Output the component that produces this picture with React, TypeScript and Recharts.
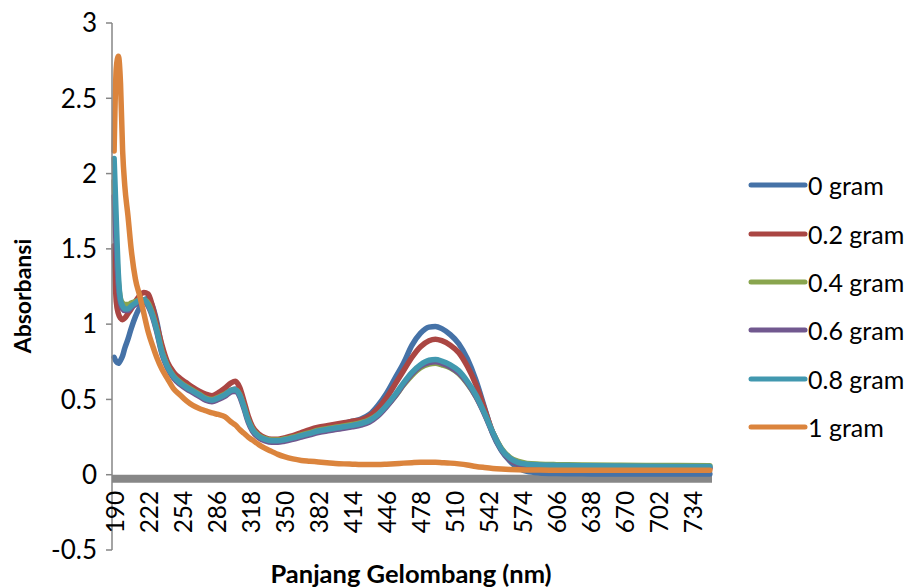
import React from 'react';
import { LineChart, Line, XAxis, YAxis, Legend, ReferenceLine } from 'recharts';

const WAVELENGTH = [190, 192, 194, 196, 198, 200, 203, 206, 210, 214, 218, 222, 226, 230, 235, 240, 246, 252, 258, 264, 270, 276, 282, 288, 294, 300, 304, 308, 312, 316, 320, 326, 332, 338, 344, 350, 358, 366, 374, 382, 390, 398, 406, 414, 422, 430, 438, 446, 454, 462, 470, 478, 486, 492, 498, 506, 514, 522, 530, 538, 546, 554, 562, 570, 578, 590, 606, 630, 660, 690, 720, 750];

const G0 = [0.78, 0.75, 0.74, 0.76, 0.79, 0.84, 0.9, 0.97, 1.05, 1.11, 1.16, 1.17, 1.12, 1.02, 0.84, 0.74, 0.67, 0.63, 0.6, 0.57, 0.54, 0.52, 0.51, 0.52, 0.54, 0.56, 0.57, 0.54, 0.46, 0.37, 0.31, 0.26, 0.235, 0.225, 0.225, 0.235, 0.245, 0.26, 0.28, 0.3, 0.315, 0.325, 0.34, 0.355, 0.37, 0.4, 0.46, 0.54, 0.64, 0.74, 0.86, 0.94, 0.98, 0.985, 0.97, 0.93, 0.87, 0.77, 0.63, 0.45, 0.27, 0.16, 0.09, 0.045, 0.022, 0.012, 0.008, 0.006, 0.005, 0.005, 0.005, 0.005];
const G02 = [1.52, 1.15, 1.07, 1.04, 1.03, 1.04, 1.07, 1.1, 1.15, 1.19, 1.21, 1.2, 1.12, 1.0, 0.86, 0.75, 0.68, 0.64, 0.61, 0.58, 0.555, 0.535, 0.525, 0.545, 0.575, 0.61, 0.62, 0.58, 0.49, 0.39, 0.32, 0.27, 0.245, 0.235, 0.235, 0.245, 0.26, 0.28, 0.3, 0.315, 0.325, 0.335, 0.345, 0.355, 0.365, 0.39, 0.44, 0.51, 0.6, 0.69, 0.78, 0.85, 0.89, 0.9, 0.89, 0.86, 0.81, 0.72, 0.6, 0.44, 0.28, 0.17, 0.1, 0.07, 0.056, 0.05, 0.048, 0.047, 0.046, 0.045, 0.044, 0.043];
const G04 = [1.95, 1.55, 1.28, 1.17, 1.14, 1.13, 1.13, 1.14, 1.15, 1.16, 1.16, 1.14, 1.07, 0.97, 0.82, 0.725, 0.655, 0.615, 0.585, 0.56, 0.535, 0.51, 0.5, 0.515, 0.535, 0.56, 0.565, 0.535, 0.455, 0.365, 0.305, 0.26, 0.24, 0.23, 0.23, 0.237, 0.25, 0.265, 0.28, 0.295, 0.305, 0.315, 0.323, 0.333, 0.345, 0.365, 0.4, 0.455, 0.52, 0.595, 0.66, 0.71, 0.735, 0.74, 0.73, 0.71, 0.67, 0.605, 0.52, 0.41, 0.28, 0.175, 0.115, 0.088, 0.075, 0.07, 0.067, 0.065, 0.063, 0.062, 0.061, 0.06];
const G06 = [1.85, 1.5, 1.25, 1.14, 1.1, 1.09, 1.09, 1.11, 1.13, 1.15, 1.15, 1.12, 1.05, 0.95, 0.8, 0.71, 0.64, 0.6, 0.57, 0.545, 0.52, 0.495, 0.485, 0.5, 0.52, 0.55, 0.555, 0.52, 0.44, 0.35, 0.29, 0.245, 0.225, 0.215, 0.215, 0.222, 0.235, 0.25, 0.265, 0.28, 0.29, 0.3, 0.308, 0.318, 0.33, 0.35, 0.39, 0.45, 0.52, 0.6, 0.67, 0.72, 0.745, 0.75, 0.74, 0.715, 0.675, 0.61, 0.52, 0.405, 0.275, 0.165, 0.1, 0.07, 0.058, 0.052, 0.05, 0.05, 0.049, 0.048, 0.048, 0.047];
const G08 = [2.1, 1.7, 1.33, 1.16, 1.12, 1.1, 1.1, 1.12, 1.14, 1.16, 1.16, 1.13, 1.06, 0.96, 0.81, 0.72, 0.65, 0.61, 0.58, 0.555, 0.53, 0.505, 0.495, 0.51, 0.53, 0.56, 0.565, 0.53, 0.45, 0.36, 0.3, 0.255, 0.235, 0.225, 0.225, 0.232, 0.245, 0.26, 0.275, 0.29, 0.3, 0.31, 0.318, 0.328, 0.34, 0.36, 0.4, 0.46, 0.53, 0.61, 0.68, 0.73, 0.76, 0.765, 0.755, 0.73, 0.69, 0.62, 0.53, 0.41, 0.28, 0.17, 0.11, 0.08, 0.07, 0.065, 0.062, 0.06, 0.058, 0.056, 0.055, 0.055];
const G1 = [2.15, 2.7, 2.78, 2.6, 2.15, 1.92, 1.72, 1.5, 1.3, 1.19, 1.07, 0.95, 0.86, 0.78, 0.7, 0.64, 0.57, 0.53, 0.49, 0.46, 0.44, 0.425, 0.41, 0.4, 0.385, 0.35, 0.33, 0.3, 0.275, 0.25, 0.23, 0.2, 0.175, 0.155, 0.135, 0.12, 0.105, 0.095, 0.09, 0.085, 0.08, 0.075, 0.072, 0.07, 0.068, 0.068, 0.068, 0.07, 0.073, 0.077, 0.08, 0.082, 0.082, 0.082, 0.08, 0.077, 0.072, 0.065, 0.055, 0.048, 0.042, 0.038, 0.035, 0.033, 0.032, 0.031, 0.03, 0.03, 0.03, 0.03, 0.03, 0.03];

const SERIES_NAMES = ['0 gram', '0.2 gram', '0.4 gram', '0.6 gram', '0.8 gram', '1 gram'];
const SERIES_VALUES = [G0, G02, G04, G06, G08, G1];
const SERIES_COLORS = ['#4572A7', '#AA4643', '#89A54E', '#71588F', '#4198AF', '#DB843D'];

const X_TICKS = [190, 222, 254, 286, 318, 350, 382, 414, 446, 478, 510, 542, 574, 606, 638, 670, 702, 734];
const Y_TICKS = [-0.5, 0, 0.5, 1, 1.5, 2, 2.5, 3];

const data = WAVELENGTH.map((nm, i) => {
  const row: Record<string, number> = { nm };
  SERIES_VALUES.forEach((vals, s) => {
    row['s' + s] = vals[i];
  });
  return row;
});

const FONT = 'Lato, "Open Sans", sans-serif';
const W = 907;
const H = 588;
const M_TOP = 23;
const X_AXIS_H = 38;
const LEGEND_W = 159;
const PLOT_BOTTOM = H - X_AXIS_H;
const ZERO_Y = M_TOP + (3 / 3.5) * (PLOT_BOTTOM - M_TOP);
const LABEL_TOP = ZERO_Y + 16;

const XTick = (props: any) => {
  const { x, payload } = props;
  return (
    <text
      x={x}
      y={LABEL_TOP}
      transform={`rotate(-90 ${x} ${LABEL_TOP})`}
      textAnchor="end"
      dominantBaseline="central"
      fontSize={24.5}
      fontFamily={FONT}
      fill="#000"
    >
      {payload.value}
    </text>
  );
};

const LegendContent = (props: any) => {
  const payload = props.payload || [];
  return (
    <div style={{ fontFamily: FONT, fontSize: 25, color: '#000' }}>
      {payload.map((p: any, i: number) => (
        <div key={i} style={{ display: 'flex', alignItems: 'center', height: 48.4 }}>
          <svg width={60} height={10} style={{ display: 'block' }}>
            <line x1={3} y1={5} x2={57} y2={5} stroke={p.color} strokeWidth={5} strokeLinecap="round" />
          </svg>
          <span style={{ whiteSpace: 'nowrap' }}>{p.value}</span>
        </div>
      ))}
    </div>
  );
};

export default function App() {
  return (
    <div style={{ position: 'absolute', left: 0, top: 0, width: W, height: H, background: '#fff' }}>
      <LineChart width={W} height={H} data={data} margin={{ top: M_TOP, right: 195 - LEGEND_W, bottom: 0, left: 0 }}>
        <XAxis
          dataKey="nm"
          type="number"
          domain={[188, 752]}
          ticks={X_TICKS}
          interval={0}
          axisLine={false}
          tickLine={false}
          height={X_AXIS_H}
          tick={<XTick />}
          label={{
            content: () => (
              <text x={411} y={573} textAnchor="middle" dominantBaseline="central" fontSize={25.5} fontWeight="bold" fontFamily={FONT} fill="#000">
                Panjang Gelombang (nm)
              </text>
            ),
          }}
        />
        <YAxis
          type="number"
          domain={[-0.5, 3]}
          ticks={Y_TICKS}
          interval={0}
          width={112}
          axisLine={{ stroke: '#868686', strokeWidth: 1.5 }}
          tickLine={{ stroke: '#868686', strokeWidth: 1.5 }}
          tickSize={6}
          tickMargin={9}
          tick={{ fill: '#000', fontSize: 26, fontFamily: FONT }}
          label={{
            content: () => (
              <text x={22} y={296} transform="rotate(-90 22 296)" textAnchor="middle" dominantBaseline="central" fontSize={23} fontWeight="bold" fontFamily={FONT} fill="#000">
                Absorbansi
              </text>
            ),
          }}
        />
        <ReferenceLine
          y={0}
          stroke="#878787"
          strokeWidth={8}
          shape={(p: any) => (
            <line x1={p.x1} y1={p.y1 + 4} x2={p.x2} y2={p.y2 + 4} stroke="#878787" strokeWidth={8} />
          )}
        />
        {SERIES_NAMES.map((name, s) => (
          <Line
            key={name}
            type="monotone"
            dataKey={'s' + s}
            name={name}
            stroke={SERIES_COLORS[s]}
            strokeWidth={5.5}
            strokeLinecap="round"
            strokeLinejoin="round"
            dot={false}
            activeDot={false}
            isAnimationActive={false}
          />
        ))}
        <Legend
          layout="vertical"
          align="right"
          verticalAlign="top"
          content={<LegendContent />}
          wrapperStyle={{ position: 'absolute', left: 748, top: 161, width: LEGEND_W }}
        />
      </LineChart>
    </div>
  );
}
